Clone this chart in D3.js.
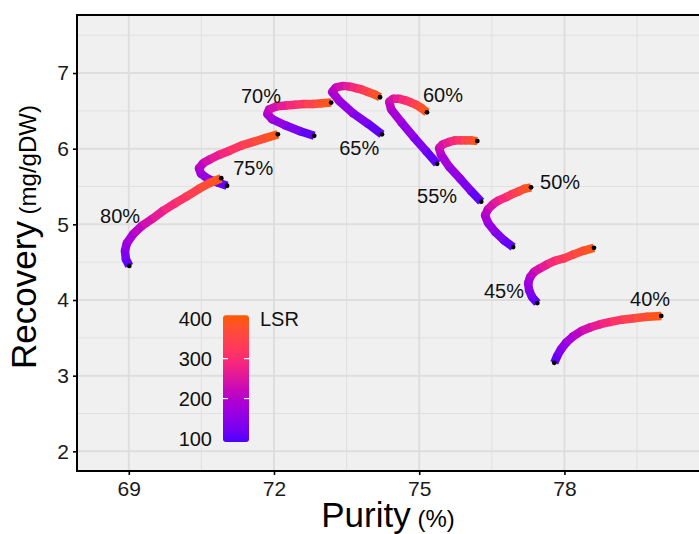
<!DOCTYPE html>
<html>
<head>
<meta charset="utf-8">
<script src="https://cdn.jsdelivr.net/npm/d3@7"></script>
<style>
  body { margin: 0; background: #fff; }
  svg { display: block; font-family: "Liberation Sans", Arial, sans-serif; }
</style>
</head>
<body>
<svg width="699" height="534"></svg>
<script>
window.onload = function() {

// LSR steps along every curve
var lsr = [100, 125, 150, 175, 200, 225, 250, 275, 300, 325, 350, 375, 400];

var groups = ["40%", "45%", "50%", "55%", "60%", "65%", "70%", "75%", "80%"];

var purity40 = [77.79, 77.85, 77.93, 78.04, 78.18, 78.35, 78.54, 78.74, 78.95, 79.19, 79.44, 79.71, 80.00];
var recovery40 = [3.17, 3.26, 3.35, 3.44, 3.52, 3.59, 3.64, 3.68, 3.71, 3.74, 3.76, 3.78, 3.79];

var purity45 = [77.44, 77.33, 77.27, 77.25, 77.29, 77.37, 77.50, 77.64, 77.81, 77.99, 78.18, 78.39, 78.61];
var recovery45 = [3.96, 4.04, 4.13, 4.22, 4.30, 4.37, 4.42, 4.47, 4.52, 4.55, 4.60, 4.65, 4.69];

var purity50 = [76.94, 76.75, 76.57, 76.42, 76.36, 76.42, 76.53, 76.65, 76.80, 76.92, 77.04, 77.17, 77.31];
var recovery50 = [4.70, 4.79, 4.90, 5.02, 5.12, 5.20, 5.27, 5.32, 5.36, 5.40, 5.43, 5.47, 5.49];

var purity55 = [76.28, 76.07, 75.85, 75.62, 75.45, 75.41, 75.49, 75.62, 75.74, 75.87, 75.97, 76.07, 76.20];
var recovery55 = [5.30, 5.44, 5.60, 5.76, 5.92, 6.01, 6.06, 6.09, 6.11, 6.11, 6.11, 6.11, 6.10];

var purity60 = [75.37, 75.14, 74.89, 74.63, 74.42, 74.38, 74.46, 74.58, 74.71, 74.83, 74.94, 75.04, 75.16];
var recovery60 = [5.80, 5.97, 6.15, 6.35, 6.52, 6.62, 6.66, 6.66, 6.64, 6.61, 6.58, 6.54, 6.48];

var purity65 = [74.23, 73.94, 73.63, 73.35, 73.20, 73.28, 73.43, 73.57, 73.70, 73.82, 73.94, 74.07, 74.19];
var recovery65 = [6.19, 6.33, 6.47, 6.63, 6.75, 6.81, 6.83, 6.82, 6.80, 6.78, 6.75, 6.72, 6.68];

var purity70 = [72.83, 72.54, 72.23, 71.96, 71.86, 71.90, 72.06, 72.25, 72.44, 72.62, 72.81, 72.99, 73.18];
var recovery70 = [6.17, 6.23, 6.31, 6.39, 6.46, 6.52, 6.56, 6.57, 6.58, 6.59, 6.59, 6.60, 6.61];

var purity75 = [71.03, 70.85, 70.64, 70.49, 70.45, 70.54, 70.68, 70.87, 71.07, 71.32, 71.57, 71.82, 72.08];
var recovery75 = [5.51, 5.55, 5.60, 5.67, 5.74, 5.81, 5.86, 5.92, 5.97, 6.04, 6.09, 6.14, 6.19];

var purity80 = [69.01, 68.94, 68.92, 68.96, 69.09, 69.27, 69.48, 69.71, 69.96, 70.20, 70.45, 70.68, 70.91];
var recovery80 = [4.45, 4.54, 4.65, 4.75, 4.87, 4.98, 5.07, 5.18, 5.28, 5.37, 5.47, 5.55, 5.61];

var purityByGroup = [purity40, purity45, purity50, purity55, purity60, purity65, purity70, purity75, purity80];
var recoveryByGroup = [recovery40, recovery45, recovery50, recovery55, recovery60, recovery65, recovery70, recovery75, recovery80];

// where the group labels sit, in data units
var labelPurity = [79.77, 76.75, 77.91, 75.37, 75.49, 73.76, 71.73, 71.57, 68.82];
var labelRecovery = [4.01, 4.12, 5.56, 5.37, 6.71, 6.01, 6.70, 5.75, 5.11];

var xTicks = [69, 72, 75, 78];
var xMinor = [70.5, 73.5, 76.5, 79.5];
var yTicks = [2, 3, 4, 5, 6, 7];
var yMinor = [2.5, 3.5, 4.5, 5.5, 6.5, 7.5];
var legendTicks = [100, 200, 300, 400];

var colorStops = ["#4f00ff", "#b000d2", "#ff2c6e", "#ff5a00"];

var svg = d3.select("svg");
var left = 77, top = 15, right = 699, bottom = 471;
var lineWidth = 8.5;

var x = d3.scaleLinear().domain([67.93, 80.78]).range([left, right]);
var y = d3.scaleLinear().domain([1.74, 7.767]).range([bottom, top]);

var color = d3.scaleLinear()
    .domain([100, 200, 300, 400])
    .range(colorStops)
    .interpolate(d3.interpolateLab);

// panel background
svg.append("rect")
    .attr("x", left).attr("y", top)
    .attr("width", right - left + 5).attr("height", bottom - top)
    .attr("fill", "#f0f0f0");

var grid = svg.append("g");

grid.selectAll(".minor-x").data(xMinor).enter().append("line")
    .attr("x1", function(d) { return x(d); }).attr("x2", function(d) { return x(d); })
    .attr("y1", top).attr("y2", bottom)
    .attr("stroke", "#e0e0e0").attr("stroke-width", 1);

grid.selectAll(".minor-y").data(yMinor).enter().append("line")
    .attr("y1", function(d) { return y(d); }).attr("y2", function(d) { return y(d); })
    .attr("x1", left).attr("x2", right + 5)
    .attr("stroke", "#e0e0e0").attr("stroke-width", 1);

grid.selectAll(".major-x").data(xTicks).enter().append("line")
    .attr("x1", function(d) { return x(d); }).attr("x2", function(d) { return x(d); })
    .attr("y1", top).attr("y2", bottom)
    .attr("stroke", "#dedede").attr("stroke-width", 2);

grid.selectAll(".major-y").data(yTicks).enter().append("line")
    .attr("y1", function(d) { return y(d); }).attr("y2", function(d) { return y(d); })
    .attr("x1", left).attr("x2", right + 5)
    .attr("stroke", "#dedede").attr("stroke-width", 2);

// Render curves, one per group, drawn as coloured segments
var plot = svg.append("g");

groups.forEach(function(g, gi) {
    var pts = lsr.map(function(l, i) {
        return { lsr: l, px: purityByGroup[gi][i], rc: recoveryByGroup[gi][i] };
    });
    var segs = d3.pairs(pts);
    var cg = plot.append("g").attr("class", "curve");

    // joints, so bends stay filled
    cg.selectAll("circle.joint")
        .data(pts.slice(1, -1))
        .enter().append("circle")
        .attr("class", "joint")
        .attr("cx", function(d) { return x(d.px); })
        .attr("cy", function(d) { return y(d.rc); })
        .attr("r", lineWidth / 2)
        .attr("fill", function(d) { return color(d.lsr); });

    cg.selectAll("line")
        .data(segs)
        .enter().append("line")
        .attr("x1", function(d) { return x(d[0].px); })
        .attr("y1", function(d) { return y(d[0].rc); })
        .attr("x2", function(d) { return x(d[1].px); })
        .attr("y2", function(d) { return y(d[1].rc); })
        .attr("stroke", function(d) { return color((d[0].lsr + d[1].lsr) / 2); })
        .attr("stroke-width", lineWidth);

    cg.selectAll("circle.end")
        .data([pts[0], pts[pts.length - 1]])
        .enter().append("circle")
        .attr("class", "end")
        .attr("cx", function(d) { return x(d.px); })
        .attr("cy", function(d) { return y(d.rc); })
        .attr("r", 2.4)
        .attr("fill", "#000");
});

// group labels
svg.selectAll(".glabel").data(groups).enter().append("text")
    .attr("class", "glabel")
    .attr("x", function(d, i) { return x(labelPurity[i]); })
    .attr("y", function(d, i) { return y(labelRecovery[i]); })
    .attr("text-anchor", "middle")
    .attr("dominant-baseline", "central")
    .attr("font-size", 20)
    .attr("fill", "#111")
    .text(function(d) { return d; });

// panel border
svg.append("path")
    .attr("d", "M" + (right + 5) + "," + top + "H" + left + "V" + bottom + "H" + (right + 5))
    .attr("fill", "none")
    .attr("stroke", "#000")
    .attr("stroke-width", 2);

// Render Axis
var xAxis = d3.axisBottom(x).tickValues(xTicks).tickSize(4).tickPadding(6).tickFormat(d3.format("d"));
var yAxis = d3.axisLeft(y).tickValues(yTicks).tickSize(4).tickPadding(4).tickFormat(d3.format("d"));

var gx = svg.append("g").attr("transform", "translate(0," + bottom + ")").call(xAxis);
var gy = svg.append("g").attr("transform", "translate(" + left + ",0)").call(yAxis);

[gx, gy].forEach(function(a) {
    a.select(".domain").remove();
    a.selectAll(".tick line").attr("stroke", "#000").attr("stroke-width", 1.6);
    a.selectAll(".tick text").attr("font-size", 21).attr("fill", "#1a1a1a");
});

// axis titles
var xt = svg.append("text")
    .attr("x", (left + right) / 2)
    .attr("y", 527)
    .attr("text-anchor", "middle")
    .attr("fill", "#000");
xt.append("tspan").attr("font-size", 35).text("Purity");
xt.append("tspan").attr("font-size", 24).text(" (%)");

var yt = svg.append("text")
    .attr("transform", "translate(36," + ((top + bottom) / 2 - 6) + ") rotate(-90)")
    .attr("text-anchor", "middle")
    .attr("fill", "#000");
yt.append("tspan").attr("font-size", 35).text("Recovery");
yt.append("tspan").attr("font-size", 24).text(" (mg/gDW)");

// Legend
var legendY = d3.scaleLinear().domain([100, 400]).range([438.5, 318.7]);
var legend = svg.append("g");
var defs = svg.append("defs");
var grad = defs.append("linearGradient")
    .attr("id", "lsrgrad")
    .attr("x1", 0).attr("y1", 1).attr("x2", 0).attr("y2", 0);
d3.range(0, 1.0001, 0.1).forEach(function(t) {
    grad.append("stop")
        .attr("offset", t)
        .attr("stop-color", color(100 + 300 * t));
});

legend.append("rect")
    .attr("x", 223).attr("y", legendY(400) - 3.5)
    .attr("width", 26).attr("height", legendY(100) - legendY(400) + 7)
    .attr("rx", 3)
    .attr("fill", "url(#lsrgrad)");

legend.selectAll(".lt").data(legendTicks.slice(1, 3)).enter().append("g")
    .each(function(d) {
        var g = d3.select(this);
        g.append("line").attr("x1", 223).attr("x2", 228)
            .attr("y1", legendY(d)).attr("y2", legendY(d))
            .attr("stroke", "#fff").attr("stroke-width", 1.2);
        g.append("line").attr("x1", 244).attr("x2", 249)
            .attr("y1", legendY(d)).attr("y2", legendY(d))
            .attr("stroke", "#fff").attr("stroke-width", 1.2);
    });

legend.selectAll(".ll").data(legendTicks).enter().append("text")
    .attr("x", 212)
    .attr("y", function(d) { return legendY(d); })
    .attr("text-anchor", "end")
    .attr("dominant-baseline", "central")
    .attr("font-size", 20)
    .attr("fill", "#111")
    .text(function(d) { return d; });

legend.append("text")
    .attr("x", 260)
    .attr("y", legendY(400))
    .attr("dominant-baseline", "central")
    .attr("font-size", 20)
    .attr("fill", "#111")
    .text("LSR");

}
</script>
</body>
</html>
